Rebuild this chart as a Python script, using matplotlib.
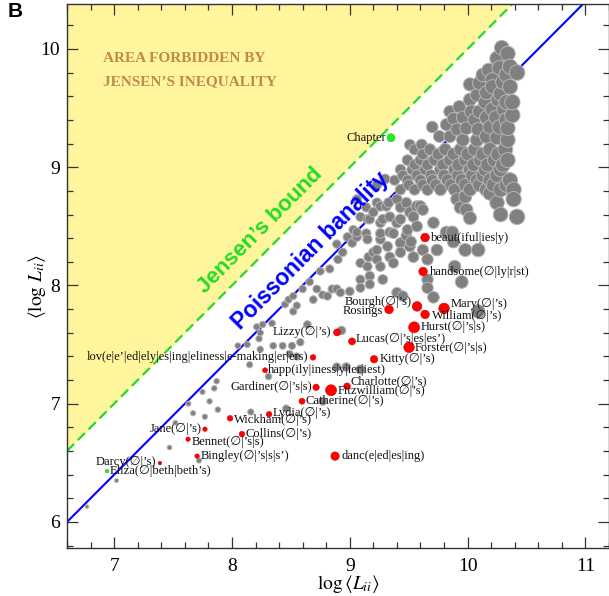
import matplotlib
matplotlib.use('Agg')
import matplotlib.pyplot as plt
from matplotlib.ticker import MultipleLocator
import numpy as np

# ---------------- data ----------------
gray_low = [(6.77,6.13),(7.02,6.35),(7.47,6.63),(7.52,6.84),(7.63,7.00),(7.67,6.92),(7.75,7.10),
            (7.77,6.89),(7.72,6.52),(7.81,7.02),(7.85,7.13),(7.87,7.19),(7.88,6.95),(8.16,6.93),
            (8.46,6.96),(8.15,7.33),(8.31,7.23),(8.05,7.49),(8.13,7.50),(8.24,7.46),(8.35,7.49),
            (8.43,7.49),(8.51,7.49),(8.58,7.52),(8.21,7.65),(8.24,7.60),(8.23,7.55),(8.26,7.67),
            (8.34,7.68),(8.45,7.84),(8.48,7.88),(8.52,7.78),(8.55,7.83),(8.64,7.67),(8.69,7.88),
            (8.49,7.42),(8.55,7.40),(8.93,7.62),(8.97,7.31),(9.09,7.29),(8.89,7.31),(8.77,7.02)]
gray_mid = [(9.33,8.70),(9.43,8.66),(9.51,8.62),(9.60,8.67),(9.28,8.56),(9.40,8.53),(9.49,8.47),
            (9.57,8.50),(9.34,8.45),(9.26,8.39),(9.32,8.33),(9.43,8.36),(9.51,8.33),(9.43,8.28),
            (9.34,8.24),(9.23,8.22),(9.15,8.16),(9.26,8.16),(9.37,8.19),(9.28,8.05),(9.17,8.01),
            (9.09,7.98),(9.00,7.95),(8.92,7.94),(8.85,7.97),(8.77,7.92),(9.52,8.37),(9.62,8.30),
            (9.54,8.24),(9.66,8.22),(9.66,8.05),(9.66,7.98),(9.71,7.90),(9.74,8.30),(9.88,8.37),
            (9.98,8.30),(10.09,8.30),(9.89,8.16),(9.95,8.03),(9.82,8.45),(9.40,7.94),(9.45,7.91),
            (10.09,7.78),(8.52,7.91),(8.60,7.97),(8.66,8.03),(8.75,8.12),(8.83,8.14),(8.90,8.22),
            (8.94,8.28),(9.02,8.36),(9.06,8.41),(9.15,8.56),(9.20,8.62),(9.26,8.67),(9.09,8.19),
            (9.16,8.24),(9.23,8.30),(9.09,8.05),(9.17,8.08),(8.81,7.91),(8.72,7.97),(8.89,7.97),
            (9.20,8.28),(8.89,8.35),(8.98,8.41),(9.06,8.45),(9.15,8.39),
            (9.23,8.85),(9.30,8.90),(9.06,8.73),(9.14,8.66),(9.23,8.70),(9.31,8.67),(9.40,8.73),
            (9.48,8.70),(9.57,8.67),(9.54,8.58),(9.62,8.64),(9.43,8.56),(9.34,8.58),(9.26,8.53),
            (9.17,8.56),(9.09,8.58),(9.03,8.47),(9.14,8.44),(9.26,8.44),(9.37,8.44),(9.48,8.42),
            (9.82,8.44),(9.71,8.53),(9.99,8.64),(10.02,8.57),(10.28,8.60),(10.42,8.58),(9.98,8.75),
            (10.19,8.78),(10.39,8.73),(10.25,8.70),(9.91,8.73),(9.94,8.66),(9.87,8.45)]
gray_top = [(10.29,10.01),(10.34,9.96),(10.25,9.92),(10.36,9.85),(10.27,9.84),(10.42,9.80),
            (10.33,9.78),(10.21,9.74),(10.13,9.78),(10.10,9.71),(10.02,9.70),(10.21,9.68),
            (10.36,9.68),(10.16,9.63),(10.08,9.61),(10.26,9.57),(10.33,9.55),(10.38,9.55),
            (10.02,9.57),(9.93,9.51),(9.85,9.47),(10.03,9.47),(10.10,9.47),(10.21,9.49),
            (10.31,9.49),(10.38,9.44),(10.33,9.40),(9.70,9.34),(9.82,9.36),(9.91,9.32),
            (9.99,9.33),(10.09,9.32),(10.19,9.34),(10.27,9.34),(10.34,9.33),(9.76,9.26),
            (9.85,9.26),(9.96,9.23),(10.08,9.23),(10.16,9.26),(10.25,9.25),(10.34,9.23),
            (9.51,9.19),(9.61,9.19),
            (9.96,9.42),(10.06,9.40),(10.16,9.42),(10.24,9.42),(9.88,9.41),(10.15,9.55),
            (10.28,9.62),(10.18,9.82),(10.30,9.72),
            (9.55,9.15),(9.68,9.15),(9.81,9.15),(9.94,9.15),(10.06,9.15),(10.19,9.15),(10.32,9.15),
            (9.62,9.11),(9.75,9.11),(9.88,9.11),(10.00,9.11),(10.13,9.11),(10.26,9.11),
            (9.49,9.06),(9.60,9.06),(9.72,9.06),(9.85,9.06),(9.98,9.06),(10.11,9.06),(10.23,9.06),(10.34,9.06),
            (9.55,9.02),(9.66,9.02),(9.79,9.02),(9.92,9.02),(10.05,9.02),(10.17,9.02),(10.30,9.02),
            (9.43,8.98),(9.53,8.98),(9.64,8.98),(9.77,8.98),(9.89,8.98),(10.02,8.98),(10.15,8.98),(10.28,8.98),
            (9.45,8.93),(9.57,8.93),(9.69,8.93),(9.80,8.93),(9.92,8.93),(10.04,8.93),(10.13,8.93),(10.25,8.93),
            (9.38,8.89),(9.49,8.89),(9.60,8.89),(9.70,8.89),(9.83,8.89),(9.95,8.89),(10.08,8.89),(10.19,8.89),(10.36,8.89),
            (9.50,8.85),(9.62,8.85),(9.73,8.85),(9.86,8.85),(9.98,8.85),(10.10,8.85),(10.22,8.85),(10.33,8.85),
            (9.43,8.81),(9.55,8.81),(9.66,8.81),(9.77,8.81),(9.89,8.81),(10.02,8.81),(10.16,8.81),(10.28,8.81),(10.39,8.81)]

gray_x = [p[0] for p in gray_low + gray_mid + gray_top]
gray_y = [p[1] for p in gray_low + gray_mid + gray_top]

red_labels = ["beaut(iful|ies|y)", "handsome(∅|ly|r|st)", "Bourgh(∅|’s)", "Rosings",
              "Mary(∅|’s)", "William(∅|’s)", "Hurst(∅|’s|s)", "Forster(∅|’s|s)",
              "Lucas(∅|’s|es|es’)", "Lizzy(∅|’s)", "Kitty(∅|’s)",
              "lov(e|e’|ed|ely|es|ing|eliness|e-making|er|ers)", "happ(ily|iness|y|ier|iest)",
              "Gardiner(∅|’s|s)", "Charlotte(∅|’s)", "Fitzwilliam(∅|’s)", "Catherine(∅|’s)",
              "Lydia(∅|’s)", "Wickham(∅|’s)", "Collins(∅|’s)", "Jane(∅|’s)", "Bennet(∅|’s|s)",
              "Bingley(∅|’s|s|s’)", "Darcy(∅|’s)", "danc(e|ed|es|ing)"]
red_x = [9.639, 9.622, 9.571, 9.333, 9.800, 9.639, 9.546, 9.503, 9.019, 8.892, 9.206,
         8.688, 8.281, 8.714, 8.977, 8.841, 8.595, 8.315, 7.984, 8.085, 7.771, 7.627,
         7.704, 7.389, 8.875]
red_y = [8.405, 8.118, 7.823, 7.797, 7.806, 7.755, 7.646, 7.477, 7.527, 7.603, 7.376,
         7.392, 7.283, 7.139, 7.148, 7.114, 7.021, 6.911, 6.877, 6.743, 6.785, 6.700,
         6.557, 6.498, 6.557]

green_labels = ["Chapter", "Eliza(∅|beth|beth’s)"]
green_x = [9.350, 6.940]
green_y = [9.249, 6.430]

x_ticks = [7, 8, 9, 10, 11]
y_ticks = [6, 7, 8, 9, 10]
poisson_shift = 0.6

# ---------------- style ----------------
red_radius = [4.3, 4.3, 4.8, 4.3, 5.3, 4.3, 5.5, 5.3, 3.5, 3.5, 3.7, 2.8, 2.5, 3.2, 3.3,
              5.5, 3.0, 2.8, 2.8, 2.8, 2.2, 2.2, 2.2, 1.8, 4.2]
red_off = [(6,0,'left'),(7,0,'left'),(-5,4,'right'),(-6,-1.5,'right'),(7,4,'left'),
           (7,-1.5,'left'),(7,0,'left'),(6,-1,'left'),(4,2,'left'),(-6,0,'right'),
           (6,0,'left'),(-5,0,'right'),(3,0,'left'),(-4,0,'right'),(3,4,'left'),
           (7,-1,'left'),(3,0,'left'),(4,1.5,'left'),(4,-2,'left'),(4,0,'left'),
           (-3,0,'right'),(4,-3,'left'),(4,0,'left'),(-4,1.5,'right'),(6,0,'left')]
green_radius = [4.0, 1.8]
green_off = [(-5,0,'right'),(3,0,'left')]

PX = 0.72  # points per pixel at dpi 100
serif = ['Liberation Serif', 'DejaVu Sans']
plt.rcParams['mathtext.fontset'] = 'stix'

fig = plt.figure(figsize=(6.09, 5.96), dpi=100)
ax = fig.add_axes([67/609, 48/596, 542/609, 544/596])
xmin, xmax, ymin, ymax = 6.6, 11.2, 5.78, 10.38
ax.set_xlim(xmin, xmax)
ax.set_ylim(ymin, ymax)

xx = np.array([xmin, xmax])
ax.fill_between(xx, xx, ymax, color='#FFF59D', lw=0, zorder=0)
ax.plot(xx, xx, color='#22DD22', lw=1.6, ls=(0, (4.5, 2.4)), zorder=1)
ax.plot(xx, xx - poisson_shift, color='#0000FF', lw=1.5, zorder=1)

gx = np.array(gray_x); gy = np.array(gray_y)
order = np.argsort(gx)
grad = 1.8 * np.exp(0.40 * (gx - 6.77))
ax.scatter(gx[order], gy[order], s=(2 * grad[order] * PX) ** 2, c='#808080',
           edgecolors='#B5B5B5', linewidths=0.7, zorder=2)

ax.scatter(red_x, red_y, s=[(2 * r * PX) ** 2 for r in red_radius], c='#FF0000',
           edgecolors='#E00000', linewidths=0.4, zorder=3)
ax.scatter(green_x, green_y, s=[(2 * r * PX) ** 2 for r in green_radius], c='#22EE22',
           edgecolors='#11CC11', linewidths=0.4, zorder=3)

for lab, x, y, (dx, dy, ha) in zip(red_labels + green_labels, red_x + green_x,
                                    red_y + green_y, red_off + green_off):
    ax.annotate(lab, (x, y), xytext=(dx * PX, dy * PX), textcoords='offset points',
                ha=ha, va='center', fontsize=9.0, family=serif, color='#111111', zorder=4)

ax.text(6.903, 9.921, 'AREA FORBIDDEN BY', ha='left', va='center', fontsize=11,
        family=serif, weight='bold', color='#C08A4E', zorder=4)
ax.text(6.903, 9.724, 'JENSEN’S INEQUALITY', ha='left', va='center', fontsize=11,
        family=serif, weight='bold', color='#C08A4E', zorder=4)

ax.text(8.238, 8.464, 'Jensen’s bound', rotation=45.2, rotation_mode='anchor',
        ha='center', va='center', fontsize=16, weight='bold',
        family=['Liberation Sans', 'DejaVu Sans'], color='#22DD22', zorder=5)
ax.text(8.663, 8.295, 'Poissonian banality', rotation=45.2, rotation_mode='anchor',
        ha='center', va='center', fontsize=16.3, weight='bold',
        family=['Liberation Sans', 'DejaVu Sans'], color='#0000FF', zorder=5)

ax.set_xticks(x_ticks)
ax.set_yticks(y_ticks)
ax.set_xticklabels([str(t) for t in x_ticks], family=serif, fontsize=14)
ax.set_yticklabels([str(t) for t in y_ticks], family=serif, fontsize=14)
ax.xaxis.set_minor_locator(MultipleLocator(0.2))
ax.yaxis.set_minor_locator(MultipleLocator(0.2))
ax.tick_params(which='both', direction='in', top=True, right=True, width=0.9, color='#333333')
ax.tick_params(which='major', length=8)
ax.tick_params(which='minor', length=4.5)
ax.tick_params(axis='x', pad=7)
ax.tick_params(axis='y', pad=5)
for s in ax.spines.values():
    s.set_linewidth(1.0)
    s.set_color('#333333')

ax.set_xlabel(r'$\log\langle L_{ii}\rangle$', fontsize=14)
ax.set_ylabel(r'$\langle\log\, L_{ii}\rangle$', fontsize=14)
ax.xaxis.set_label_coords(0.52, -0.046)
ax.yaxis.set_label_coords(-0.035, 0.48)

fig.text(8/609, 1 - 2/596, 'B', ha='left', va='top', fontsize=15, weight='bold',
         family=['Liberation Sans', 'DejaVu Sans'])

fig.savefig('out.png', dpi=100)
